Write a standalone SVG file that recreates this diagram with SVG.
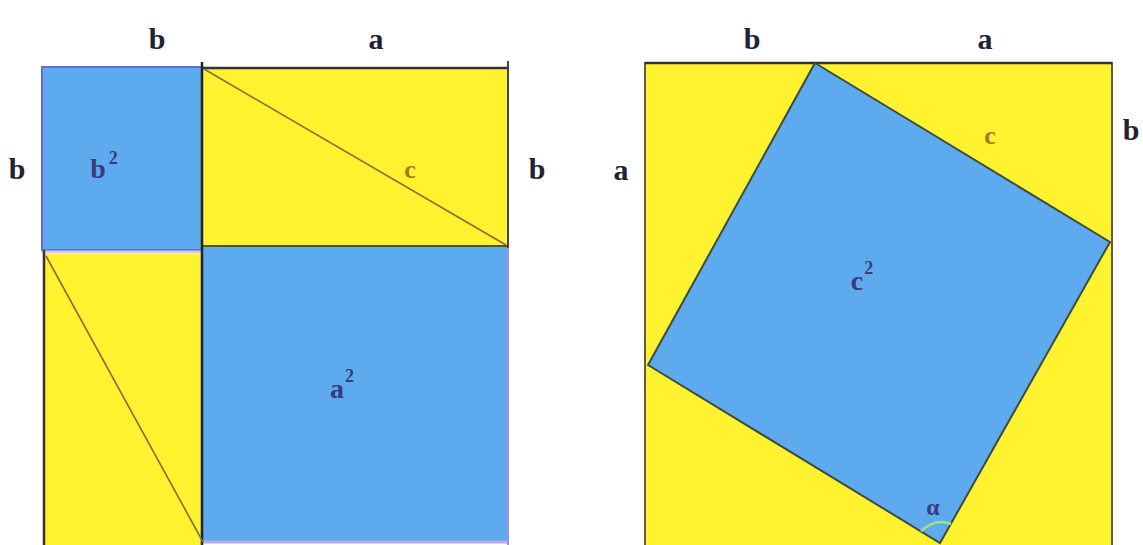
<svg xmlns="http://www.w3.org/2000/svg" width="1143" height="545" viewBox="0 0 1143 545">
<style>
.lbl{font-family:"Liberation Serif",serif;font-weight:bold;font-size:30px;fill:#222233;text-anchor:middle}
.in{font-family:"Liberation Serif",serif;font-weight:bold;font-size:28px;fill:#3b3b7a;text-anchor:middle}
.c{font-family:"Liberation Serif",serif;font-weight:bold;font-size:26px;fill:#a07a20;text-anchor:middle}
.yel{fill:#FFF22E}
.blu{fill:#5DAAEE}
.diag{stroke:#8a6a3a;stroke-width:1.6;fill:none}
.edge{stroke:#333333;stroke-width:2.5;fill:none}
</style>
<rect width="1143" height="545" fill="#ffffff"/>

<!-- Left figure -->
<g id="left-figure">
  <g id="b-square">
    <rect x="42" y="67" width="160" height="183" class="blu" stroke="#6a6ad0" stroke-width="2"/>
    <text class="in" x="104" y="178">b<tspan font-size="18" dy="-14" dx="3">2</tspan></text>
  </g>
  <g id="top-rect">
    <rect x="202" y="68" width="306" height="178" class="yel"/>
    <line x1="202" y1="68" x2="508" y2="68" class="edge"/>
    <line x1="202" y1="246" x2="508" y2="246" stroke="#3a5a3a" stroke-width="2"/>
    <text class="c" x="410" y="178">c</text>
  </g>
  <g id="bottom-left-rect">
    <rect x="44" y="254" width="158" height="291" class="yel"/>
    <line x1="42" y1="252" x2="202" y2="252" stroke="#d8c8f0" stroke-width="3"/>
    <line x1="44" y1="250" x2="44" y2="545" class="edge"/>
  </g>
  <g id="a-square">
    <rect x="203" y="247" width="305" height="294" class="blu"/>
    <line x1="203" y1="542" x2="508" y2="542" stroke="#b8a8f0" stroke-width="3"/>
    <line x1="508" y1="247" x2="508" y2="545" stroke="#9a90e0" stroke-width="2"/>
    <text class="in" x="342" y="398">a<tspan font-size="18" dy="-16" dx="1">2</tspan></text>
  </g>
</g>

<!-- Right figure -->
<g id="right-figure">
  <g id="outer-square">
    <rect x="645" y="63" width="467" height="485" class="yel" stroke="#6b5a3a" stroke-width="2"/>
    <line x1="645" y1="63" x2="1112" y2="63" class="edge"/>
  </g>
  <g id="c-square">
    <polygon points="815,63 1110,242 940,543 648,365" class="blu" stroke="#3f4a40" stroke-width="2"/>
    <text class="in" x="862" y="290">c<tspan font-size="18" dy="-16" dx="1">2</tspan></text>
    <text class="c" x="990" y="144">c</text>
  </g>
  <g id="alpha">
    <path d="M921,531 Q936,518 951,524" stroke="#9ee08a" stroke-width="2.5" fill="none"/>
    <text font-family="Liberation Serif,serif" font-weight="bold" font-size="24" fill="#3b3b7a" x="933" y="515" text-anchor="middle">α</text>
  </g>
</g>

<!-- Connectors (lines / diagonals) -->
<g id="connectors">
  <line x1="202" y1="62" x2="202" y2="545" stroke="#222" stroke-width="2.5"/>
  <line x1="508" y1="61" x2="508" y2="248" stroke="#444" stroke-width="2"/>
  <line x1="204" y1="69" x2="506" y2="245" class="diag"/>
  <line x1="46" y1="256" x2="203" y2="542" class="diag"/>
</g>

<!-- Side labels -->
<g id="labels">
  <text class="lbl" x="157" y="49">b</text>
  <text class="lbl" x="376" y="49">a</text>
  <text class="lbl" x="17" y="179">b</text>
  <text class="lbl" x="537" y="179">b</text>
  <text class="lbl" x="752" y="49">b</text>
  <text class="lbl" x="985" y="49">a</text>
  <text class="lbl" x="621" y="180">a</text>
  <text class="lbl" x="1131" y="140">b</text>
</g>
</svg>
